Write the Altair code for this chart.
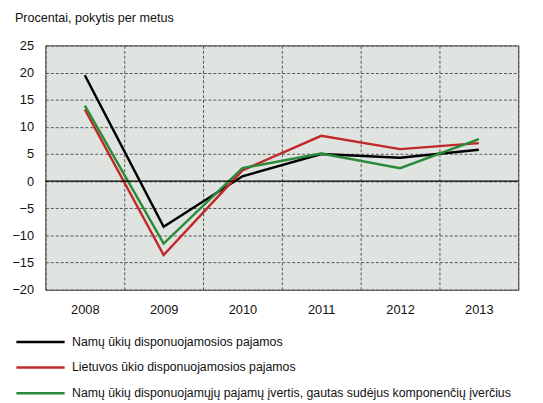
import altair as alt
import pandas as pd

years = ["2008", "2009", "2010", "2011", "2012", "2013"]
series_names = [
    "Namų ūkių disponuojamosios pajamos",
    "Lietuvos ūkio disponuojamosios pajamos",
    "Namų ūkių disponuojamųjų pajamų įvertis, gautas sudėjus komponenčių įverčius",
]
household = [19.5, -8.4, 0.9, 5.0, 4.3, 5.8]
economy = [13.2, -13.6, 2.0, 8.35, 5.9, 7.0]
estimate = [13.9, -11.5, 2.4, 5.1, 2.4, 7.75]
colors = ["#000000", "#c0282a", "#2a8a3a"]
y_ticks = [-20, -15, -10, -5, 0, 5, 10, 15, 20, 25]

rows = []
for name, vals in zip(series_names, [household, economy, estimate]):
    for yr, v in zip(years, vals):
        rows.append({"Metai": yr, "Reikšmė": v, "Serija": name})
df = pd.DataFrame(rows)
zero_df = pd.DataFrame({"y": [0]})

FONT = "Liberation Sans"

y_axis = alt.Axis(
    title=None, values=y_ticks, grid=True, gridDash=[3, 2],
    gridColor="#555555", gridWidth=1, ticks=False, domain=False,
    labelPadding=12, labelFont=FONT, labelFontSize=13,
    labelColor="#111111", labelOverlap=False, tickCount=10,
)

x_enc = alt.X(
    "Metai:N",
    sort=years,
    scale=alt.Scale(paddingInner=0, paddingOuter=0),
    axis=alt.Axis(
        title=None, labelAngle=0, tickBand="extent", grid=True,
        gridDash=[3, 2], gridColor="#555555", gridWidth=1,
        ticks=False, domain=False, labelPadding=14,
        labelFont=FONT, labelFontSize=13, labelColor="#111111",
    ),
)
y_scale = alt.Scale(domain=[-20, 25], nice=False, zero=False)

lines = alt.Chart(df).mark_line(strokeWidth=2.5).encode(
    x=x_enc,
    y=alt.Y("Reikšmė:Q", scale=y_scale, axis=y_axis),
    color=alt.Color(
        "Serija:N",
        sort=series_names,
        scale=alt.Scale(domain=series_names, range=colors),
        legend=alt.Legend(
            title=None, orient="none", legendX=-31, legendY=294,
            direction="vertical", symbolType="stroke", symbolSize=2400,
            symbolStrokeWidth=2.5, clipHeight=14, labelFont=FONT,
            labelFontSize=12.5, labelColor="#111111", labelLimit=600,
            rowPadding=12, labelOffset=6, padding=0,
        ),
    ),
)

zero = alt.Chart(zero_df).mark_rule(color="#000000", strokeWidth=1.2).encode(
    y=alt.Y("y:Q", scale=y_scale, axis=y_axis)
)

chart = (
    alt.layer(lines, zero)
    .properties(
        width=480,
        height=248,
        title=alt.TitleParams(
            "Procentai, pokytis per metus", anchor="start", frame="group",
            dx=-31, font=FONT, fontSize=12.8, fontWeight="normal",
            color="#111111", offset=15,
        ),
        autosize=alt.AutoSizeParams(type="none"),
        padding={"left": 38, "top": 35, "right": 17, "bottom": 112},
    )
    .configure_view(stroke="#333333", strokeWidth=1, fill="#e0e4e0")
)

chart.save("out.html", embed_options={"renderer": "svg", "actions": False})
